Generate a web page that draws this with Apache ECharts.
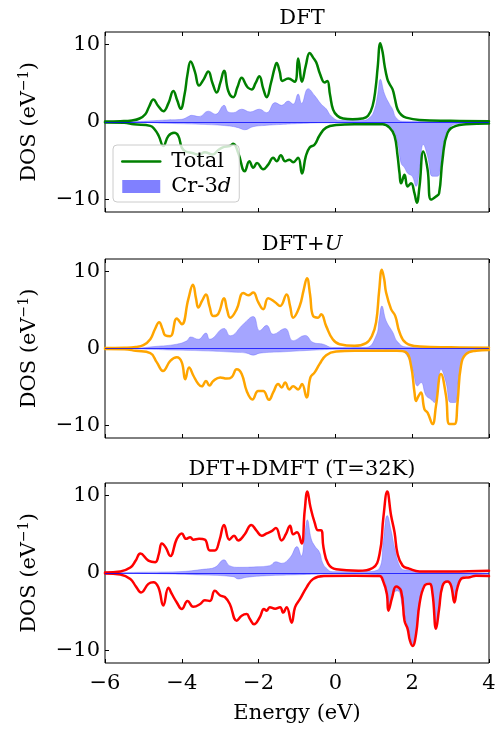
<!DOCTYPE html>
<html>
<head>
<meta charset="utf-8">
<script src="https://cdn.jsdelivr.net/npm/echarts@6/dist/echarts.min.js"></script>
<style>
html,body{margin:0;padding:0;background:#fff;}
#chart{width:502px;height:729px;}
</style>
</head>
<body>
<div id="chart"></div>
<script>
// ---------- data (energy in eV, DOS in eV^-1) ----------
const xTicks = [-6, -4, -2, 0, 2, 4];
const yTicks = [-10, 0, 10];
const panelTitles = ['DFT', 'DFT+U', 'DFT+DMFT (T=32K)'];
const legendNames = ['Total', 'Cr-3d'];

// Panel 1: DFT
const dftTotalUp = [[-6,0.05],[-5.6,0.1],[-5.3,0.2],[-5.1,0.45],[-4.95,1.0],[-4.85,2.0],[-4.74,2.9],[-4.62,2.1],[-4.48,1.4],[-4.35,2.4],[-4.22,4.0],[-4.12,2.8],[-4.03,1.7],[-3.93,3.5],[-3.85,6.2],[-3.77,7.8],[-3.66,6.5],[-3.55,4.7],[-3.43,5.5],[-3.31,6.5],[-3.2,5.0],[-3.09,3.8],[-3.0,5.0],[-2.9,6.6],[-2.79,4.0],[-2.66,3.2],[-2.55,4.5],[-2.44,5.7],[-2.33,4.8],[-2.27,4.4],[-2.18,4.2],[-2.08,5.0],[-1.98,5.9],[-1.88,4.3],[-1.79,3.2],[-1.68,5.0],[-1.58,7.0],[-1.53,7.6],[-1.45,6.5],[-1.38,5.3],[-1.23,5.6],[-1.06,5.2],[-0.97,8.2],[-0.87,5.2],[-0.77,7.3],[-0.67,8.9],[-0.58,8.3],[-0.5,7.7],[-0.4,6.2],[-0.28,5.1],[-0.21,5.3],[-0.14,3.5],[-0.06,1.6],[0.05,0.8],[0.2,0.45],[0.45,0.35],[0.7,0.45],[0.85,0.8],[0.97,2.1],[1.05,4.5],[1.1,7.0],[1.17,10.15],[1.23,9.0],[1.28,7.3],[1.35,5.6],[1.41,4.9],[1.49,4.2],[1.55,3.0],[1.62,1.6],[1.72,0.9],[1.84,0.56],[2.19,0.26],[3,0.15],[4,0.1]];
const dftTotalDown = [[-6,-0.05],[-5.5,-0.1],[-5.25,-0.3],[-4.82,-0.5],[-4.7,-1.0],[-4.6,-1.8],[-4.48,-3.1],[-4.35,-1.8],[-4.2,-1.4],[-4.09,-1.8],[-4.0,-3.3],[-3.9,-3.8],[-3.73,-4.0],[-3.55,-4.2],[-3.4,-3.9],[-3.2,-4.2],[-3.05,-3.6],[-2.9,-3.2],[-2.75,-3.1],[-2.66,-2.8],[-2.53,-4.0],[-2.36,-6.35],[-2.24,-5.05],[-2.14,-5.9],[-2.04,-5.3],[-1.88,-6.1],[-1.75,-5.5],[-1.62,-4.6],[-1.53,-5.05],[-1.42,-4.3],[-1.31,-5.05],[-1.2,-4.85],[-1.1,-5.2],[-0.97,-4.6],[-0.87,-6.65],[-0.77,-4.4],[-0.67,-3.3],[-0.54,-2.9],[-0.41,-1.7],[-0.24,-0.73],[0.02,-0.4],[0.5,-0.3],[1.23,-0.3],[1.41,-0.73],[1.54,-1.8],[1.62,-4.4],[1.67,-6.6],[1.71,-7.9],[1.8,-6.8],[1.88,-8.3],[1.97,-7.9],[2.06,-9.2],[2.12,-10.4],[2.19,-8.3],[2.29,-3.8],[2.4,-6.1],[2.49,-10.0],[2.62,-9.6],[2.7,-9.2],[2.79,-4.8],[2.92,-1.4],[3.14,-0.5],[3.4,-0.3],[4,-0.2]];
const dftCrUp = [[-6,0],[-5.2,0.05],[-4.8,0.15],[-4.39,0.26],[-4.0,0.35],[-3.83,0.7],[-3.75,0.86],[-3.55,0.7],[-3.31,1.4],[-3.12,1.0],[-2.9,2.15],[-2.79,1.3],[-2.66,1.2],[-2.44,1.65],[-2.22,1.3],[-1.98,1.65],[-1.79,1.2],[-1.57,2.5],[-1.4,2.15],[-1.23,2.7],[-1.1,2.3],[-0.97,3.6],[-0.88,2.4],[-0.71,4.3],[-0.54,3.4],[-0.37,2.3],[-0.24,1.7],[-0.11,0.78],[0.11,0.2],[0.7,0.2],[0.9,0.6],[1.02,1.65],[1.1,3.5],[1.17,5.5],[1.28,3.6],[1.41,2.3],[1.49,1.65],[1.58,0.56],[1.75,0.1],[4,0]];
const dftCrDown = [[-6,0],[-5,-0.05],[-4.39,-0.17],[-3.5,-0.3],[-2.79,-0.5],[-2.53,-0.73],[-2.36,-1.0],[-2.14,-0.6],[-1.79,-0.43],[-1.36,-0.3],[-0.93,-0.2],[-0.24,-0.1],[0.5,-0.1],[1.23,-0.3],[1.49,-0.95],[1.62,-2.7],[1.71,-5.3],[1.8,-5.9],[1.88,-6.6],[2.0,-7.0],[2.1,-8.3],[2.19,-6.1],[2.29,-2.9],[2.4,-4.4],[2.53,-7.0],[2.66,-7.0],[2.75,-5.3],[2.84,-2.25],[2.97,-0.73],[3.23,-0.2],[4,0]];

// Panel 2: DFT+U
const uTotalUp = [[-6,0.05],[-5.5,0.1],[-5.2,0.2],[-5.0,0.43],[-4.82,1.2],[-4.7,2.5],[-4.59,3.4],[-4.5,2.5],[-4.43,1.7],[-4.3,1.6],[-4.13,3.9],[-4.0,3.15],[-3.83,6.4],[-3.71,8.25],[-3.63,6.5],[-3.57,5.3],[-3.47,6.2],[-3.37,7.0],[-3.28,5.5],[-3.18,4.2],[-3.05,4.5],[-2.9,6.5],[-2.82,5.0],[-2.74,4.0],[-2.57,5.1],[-2.4,7.2],[-2.27,6.9],[-2.14,7.25],[-2.01,6.0],[-1.88,5.1],[-1.75,6.5],[-1.57,6.0],[-1.44,5.5],[-1.27,7.0],[-1.18,5.5],[-1.1,4.0],[-0.93,5.5],[-0.83,7.5],[-0.74,9.1],[-0.66,7.0],[-0.58,4.2],[-0.45,4.0],[-0.37,4.45],[-0.24,2.9],[-0.07,1.2],[0.11,0.56],[0.5,0.35],[0.8,0.7],[0.95,1.6],[1.06,3.4],[1.14,7.5],[1.21,10.2],[1.27,9.0],[1.32,7.25],[1.45,5.1],[1.56,4.2],[1.67,2.1],[1.84,0.7],[2.2,0.26],[3,0.15],[4,0.1]];
const uTotalDown = [[-6,-0.05],[-5.5,-0.1],[-5.2,-0.3],[-4.82,-0.6],[-4.65,-1.8],[-4.49,-2.9],[-4.3,-1.6],[-4.13,-1.15],[-4.0,-1.8],[-3.91,-4.0],[-3.81,-2.45],[-3.7,-3.5],[-3.57,-4.6],[-3.48,-4.9],[-3.37,-4.2],[-3.28,-4.8],[-3.18,-4.2],[-3.0,-3.75],[-2.83,-3.9],[-2.7,-3.7],[-2.57,-2.7],[-2.44,-3.3],[-2.31,-5.5],[-2.16,-6.6],[-2.01,-5.5],[-1.88,-5.5],[-1.73,-6.65],[-1.62,-5.7],[-1.49,-4.6],[-1.4,-5.05],[-1.31,-4.4],[-1.2,-5.3],[-1.1,-4.9],[-0.97,-5.3],[-0.87,-4.6],[-0.75,-6.35],[-0.65,-3.75],[-0.54,-3.1],[-0.41,-2.0],[-0.24,-0.86],[0.02,-0.4],[0.5,-0.3],[1.6,-0.3],[1.84,-0.5],[1.97,-2.25],[2.06,-5.7],[2.1,-6.8],[2.16,-6.2],[2.23,-5.7],[2.32,-7.9],[2.4,-8.3],[2.53,-9.8],[2.62,-7.4],[2.75,-3.3],[2.88,-6.1],[2.97,-9.8],[3.1,-9.8],[3.18,-7.0],[3.27,-2.25],[3.4,-0.73],[3.66,-0.3],[4,-0.2]];
const uCrUp = [[-6,0],[-5.2,0.05],[-4.7,0.26],[-4.13,0.56],[-3.87,1.0],[-3.77,1.5],[-3.57,1.2],[-3.37,2.0],[-3.27,1.2],[-2.9,2.6],[-2.74,1.65],[-2.4,3.15],[-2.14,4.15],[-1.97,2.3],[-1.79,3.0],[-1.62,1.85],[-1.31,2.6],[-1.1,1.0],[-0.79,1.7],[-0.58,0.78],[-0.32,0.56],[-0.07,0.13],[0.8,0.15],[1.06,1.65],[1.14,3.8],[1.21,5.5],[1.32,3.6],[1.49,2.15],[1.62,0.86],[1.84,0.2],[4,0]];
const uCrDown = [[-6,0],[-4.8,-0.1],[-4.3,-0.2],[-3.44,-0.3],[-2.57,-0.5],[-2.31,-0.6],[-2.14,-0.86],[-1.97,-0.6],[-1.36,-0.43],[-0.5,-0.2],[0.07,-0.1],[1.67,-0.3],[1.84,-0.73],[2.01,-2.7],[2.14,-4.85],[2.23,-4.4],[2.36,-6.1],[2.49,-6.6],[2.58,-7.0],[2.66,-5.3],[2.75,-2.7],[2.88,-4.4],[3.0,-7.0],[3.12,-7.0],[3.22,-3.5],[3.36,-0.95],[3.58,-0.3],[4,-0.1]];

// Panel 3: DFT+DMFT (T=32K)
const dmftTotalUp = [[-6,0.05],[-5.6,0.2],[-5.34,0.7],[-5.2,1.6],[-5.08,2.5],[-4.87,1.6],[-4.69,1.4],[-4.6,2.4],[-4.52,3.8],[-4.42,3.3],[-4.3,2.2],[-4.13,4.4],[-4.0,5.1],[-3.89,4.4],[-3.78,4.6],[-3.7,4.3],[-3.55,4.4],[-3.4,4.3],[-3.27,2.9],[-3.14,2.9],[-3.02,4.2],[-2.9,6.2],[-2.76,4.3],[-2.64,4.8],[-2.53,4.2],[-2.36,5.0],[-2.19,6.2],[-2.06,5.5],[-1.92,4.8],[-1.79,5.1],[-1.66,5.4],[-1.55,5.8],[-1.4,4.2],[-1.29,5.0],[-1.18,6.1],[-1.1,5.0],[-1.0,5.25],[-0.88,3.8],[-0.8,8.0],[-0.73,10.5],[-0.65,8.5],[-0.54,6.5],[-0.45,5.5],[-0.37,5.5],[-0.31,3.3],[-0.19,1.2],[0.02,0.47],[0.6,0.3],[0.97,0.65],[1.15,2.45],[1.25,7.2],[1.35,10.5],[1.45,7.4],[1.54,5.25],[1.62,2.45],[1.75,0.95],[1.92,0.56],[2.19,0.2],[3.0,0.2],[4,0.3]];
const dmftTotalDown = [[-6,-0.05],[-5.6,-0.2],[-5.34,-0.77],[-5.2,-1.7],[-5.06,-2.5],[-4.87,-1.4],[-4.74,-1.2],[-4.61,-1.85],[-4.48,-4.2],[-4.35,-1.9],[-4.26,-2.7],[-4.13,-3.8],[-4.0,-4.65],[-3.85,-3.6],[-3.7,-4.35],[-3.52,-4.0],[-3.4,-3.5],[-3.27,-3.6],[-3.14,-2.3],[-3.0,-2.9],[-2.88,-3.1],[-2.75,-4.0],[-2.57,-6.15],[-2.44,-5.5],[-2.31,-5.3],[-2.23,-5.9],[-2.12,-6.6],[-1.97,-5.7],[-1.86,-4.65],[-1.79,-4.85],[-1.71,-4.4],[-1.57,-4.6],[-1.44,-4.4],[-1.36,-5.1],[-1.27,-4.4],[-1.14,-6.4],[-1.05,-4.4],[-0.92,-3.35],[-0.75,-1.85],[-0.58,-0.77],[-0.3,-0.4],[0.5,-0.35],[1.15,-0.4],[1.24,-1.0],[1.34,-2.7],[1.38,-4.85],[1.48,-3.1],[1.58,-1.75],[1.71,-2.3],[1.8,-6.15],[1.88,-7.2],[1.94,-8.7],[2.01,-9.4],[2.1,-7.9],[2.19,-4.0],[2.32,-1.65],[2.45,-1.4],[2.53,-2.7],[2.62,-7.2],[2.7,-4.65],[2.79,-1.65],[2.92,-1.1],[3.01,-1.6],[3.1,-3.8],[3.18,-1.85],[3.31,-0.65],[3.5,-0.55],[3.66,-0.35],[4,-0.4]];
const dmftCrUp = [[-6,0],[-5,0.1],[-4.1,0.17],[-3.4,0.5],[-3.14,0.73],[-2.9,1.7],[-2.76,0.95],[-2.5,0.73],[-2.06,0.8],[-1.71,0.95],[-1.55,1.45],[-1.4,1.25],[-1.18,2.0],[-1.0,3.4],[-0.89,2.2],[-0.8,4.8],[-0.73,6.85],[-0.63,4.4],[-0.54,3.5],[-0.41,2.65],[-0.34,1.4],[-0.24,0.65],[-0.07,0.17],[0.8,0.2],[1.15,0.65],[1.25,4.2],[1.35,7.4],[1.45,5.5],[1.54,3.3],[1.67,0.95],[1.8,0.4],[1.97,0.4],[2.19,0.17],[4,0]];
const dmftCrDown = [[-6,0],[-5,-0.05],[-3.5,-0.25],[-2.66,-0.47],[-2.53,-0.77],[-2.31,-0.55],[-1.79,-0.35],[-0.93,-0.22],[-0.5,-0.15],[0.5,-0.1],[1.15,-0.3],[1.24,-0.55],[1.34,-2.3],[1.38,-4.65],[1.48,-2.7],[1.62,-2.3],[1.75,-4.4],[1.84,-6.15],[1.94,-7.9],[2.01,-9.25],[2.1,-7.9],[2.19,-3.6],[2.32,-1.4],[2.45,-1.2],[2.53,-2.5],[2.62,-7.0],[2.7,-4.4],[2.79,-1.5],[2.92,-1.0],[3.01,-1.4],[3.1,-3.6],[3.18,-1.4],[3.31,-0.55],[3.5,-0.3],[4,-0.2]];

// ---------- layout / style ----------
const FONT = 'DejaVu Serif';
const FS = 21;
const panels = [
  {top: 32, height: 180, color: '#008000', up: dftTotalUp, down: dftTotalDown, crUp: dftCrUp, crDown: dftCrDown, titleTop: 3},
  {top: 259, height: 179, color: '#ffa500', up: uTotalUp, down: uTotalDown, crUp: uCrUp, crDown: uCrDown, titleTop: 229},
  {top: 483, height: 180, color: '#ff0000', up: dmftTotalUp, down: dmftTotalDown, crUp: dmftCrUp, crDown: dmftCrDown, titleTop: 454}
];
const titleTexts = ['DFT', '{a|DFT+}{i|U}', 'DFT+DMFT (T=32K)'];
const minus = v => String(v).replace('-', '\u2212');
const SMOOTH = 0.45;

const grids = [], xAxes = [], yAxes = [], series = [], titles = [];
panels.forEach((p, i) => {
  grids.push({left: 105, right: 13, top: p.top, height: p.height, show: true,
    borderColor: '#000', borderWidth: 1, backgroundColor: 'transparent', containLabel: false});
  const last = i === panels.length - 1;
  xAxes.push({
    type: 'value', gridIndex: i, min: xTicks[0], max: xTicks[xTicks.length - 1], interval: 2,
    position: 'bottom',
    axisLine: {show: false, onZero: false},
    axisTick: {show: true, inside: true, length: 4, lineStyle: {color: '#000', width: 1}},
    axisLabel: {show: last, margin: 10, color: '#000', fontFamily: FONT, fontSize: FS, formatter: minus},
    splitLine: {show: false},
    name: last ? 'Energy (eV)' : '', nameLocation: 'middle', nameGap: 40,
    nameTextStyle: {color: '#000', fontFamily: FONT, fontSize: FS}
  });
  yAxes.push({
    type: 'value', gridIndex: i, min: -11.6, max: 11.6, position: 'left',
    axisLine: {show: false, onZero: false},
    axisTick: {show: true, inside: true, length: 4, customValues: yTicks, lineStyle: {color: '#000', width: 1}},
    axisLabel: {show: true, margin: 5, customValues: yTicks, color: '#000', fontFamily: FONT, fontSize: FS, formatter: minus},
    splitLine: {show: false},
    name: '{n|DOS (eV}{s|\u22121}{n|)}', nameLocation: 'middle', nameGap: 62, nameRotate: 90,
    nameTextStyle: {color: '#000', fontFamily: FONT, fontSize: FS,
      rich: {n: {fontFamily: FONT, fontSize: FS, color: '#000', lineHeight: 26},
             s: {fontFamily: FONT, fontSize: 14, color: '#000', lineHeight: 26, verticalAlign: 'top', padding: [0, 0, 10, 0]}}}
  });
  titles.push({
    text: titleTexts[i], left: 297, top: p.titleTop, textAlign: 'center',
    textStyle: {color: '#000', fontFamily: FONT, fontSize: FS, fontWeight: 'normal',
      rich: {a: {fontFamily: FONT, fontSize: FS, color: '#000'}, i: {fontFamily: FONT, fontSize: FS, color: '#000', fontStyle: 'italic'}}}
  });
});
// top tick axes
panels.forEach((p, i) => {
  xAxes.push({
    type: 'value', gridIndex: i, min: xTicks[0], max: xTicks[xTicks.length - 1], interval: 2,
    position: 'top',
    axisLine: {show: false, onZero: false},
    axisTick: {show: true, inside: true, length: 4, lineStyle: {color: '#000', width: 1}},
    axisLabel: {show: false}, splitLine: {show: false}
  });
});

const crArea = 'rgba(0,0,255,0.5)';
panels.forEach((p, i) => {
  const nameSuffix = i === 0 ? '' : ' ' + i;
  [p.crUp, p.crDown].forEach((d, k) => {
    const s = {
      name: 'Cr-3d' + nameSuffix, type: 'line', xAxisIndex: i, yAxisIndex: i, data: d,
      smooth: SMOOTH, symbol: 'none', z: 2,
      lineStyle: {width: 0.6, color: 'rgba(90,90,255,0.6)'},
      itemStyle: {color: '#8080ff'},
      areaStyle: {color: crArea, origin: 0}
    };
    if (k === 0) {
      s.markLine = {silent: true, symbol: ['none', 'none'], label: {show: false},
        lineStyle: {color: 'rgba(0,0,255,0.75)', width: 1, type: 'solid'}, data: [{yAxis: 0}], animation: false};
    }
    series.push(s);
  });
  [p.up, p.down].forEach(d => {
    series.push({
      name: 'Total' + nameSuffix, type: 'line', xAxisIndex: i, yAxisIndex: i, data: d,
      smooth: SMOOTH, symbol: 'none', z: 3,
      lineStyle: {width: 2.5, color: p.color, join: 'round', cap: 'round'}, itemStyle: {color: p.color}
    });
  });
});

const chart = echarts.init(document.getElementById('chart'), null, {renderer: 'canvas'});
chart.setOption({
  animation: false,
  backgroundColor: '#fff',
  title: titles,
  grid: grids,
  xAxis: xAxes,
  yAxis: yAxes,
  legend: {
    orient: 'vertical', left: 113, top: 145,
    padding: [6, 8, 5, 8], itemGap: 4, itemWidth: 38, itemHeight: 13,
    backgroundColor: 'rgba(255,255,255,0.8)', borderColor: '#cccccc', borderWidth: 1, borderRadius: 4,
    selectedMode: false,
    data: [
      {name: 'Total', itemStyle: {opacity: 0, color: 'rgba(0,0,0,0)', borderWidth: 0}, lineStyle: {width: 2.5, color: '#008000'}},
      {name: 'Cr-3d', icon: 'rect', itemStyle: {color: '#8080ff', borderWidth: 0}}
    ],
    formatter: n => n === 'Cr-3d' ? '{r|Cr-3}{i|d}' : '{r|' + n + '}',
    textStyle: {color: '#000', fontFamily: FONT, fontSize: FS, padding: [0, 0, 0, 6],
      rich: {r: {fontFamily: FONT, fontSize: FS, color: '#000', lineHeight: 24},
             i: {fontFamily: FONT, fontSize: FS, color: '#000', fontStyle: 'italic', lineHeight: 24}}}
  },
  series: series
});
</script>
</body>
</html>
